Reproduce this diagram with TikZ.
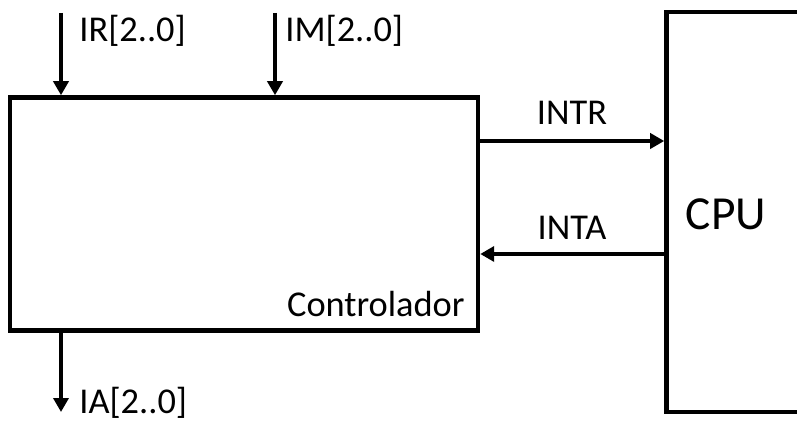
\documentclass[tikz,border=0pt]{standalone}
\usepackage{fontspec}
\setmainfont{Carlito}
\usetikzlibrary{arrows.meta}

\begin{document}
\begin{tikzpicture}[x=0.02cm, y=-0.02cm,
        blk/.style={draw, line width=2.6pt, inner sep=0pt},
        sig/.style={line width=2.4pt, -{Triangle[length=0.28cm, width=0.3cm]}},
        lbl/.style={font=\fontsize{20.7}{24}\selectfont, inner sep=0pt},
        big/.style={font=\fontsize{27}{31}\selectfont, inner sep=0pt}]

      \useasboundingbox (0,0) rectangle (797,421);
      \clip (0,0) rectangle (797,421);

      % controller
      \node[blk, minimum width=9.36cm, minimum height=4.66cm] (ctrl) at (244,214) {};
      \node[lbl, anchor=base east] (ctrlname) at (465,317) {Controlador};

      % cpu (runs off the right edge)
      \node[blk, minimum width=3.9cm, minimum height=8cm] (cpu) at (764,212) {};
      \node[big, anchor=base] (cpuname) at (726,230) {CPU};

      % inputs on top
      \coordinate (irin) at (61,13);
      \coordinate (imin) at (275,13);
      \draw[sig] (irin) -- (irin |- ctrl.north);
      \draw[sig] (imin) -- (imin |- ctrl.north);
      \node[lbl, anchor=base west] (irlbl) at (79,42) {IR[2..0]};
      \node[lbl, anchor=base west] (imlbl) at (285,42) {IM[2..0]};

      % handshake
      \coordinate (intr) at (ctrl.east |- 0,141);
      \coordinate (inta) at (cpu.west |- 0,254);
      \draw[sig] (intr) -- (intr -| cpu.west);
      \draw[sig] (inta) -- (inta -| ctrl.east);
      \node[lbl, anchor=base] (intrlbl) at (572,125) {INTR};
      \node[lbl, anchor=base] (intalbl) at (572,240) {INTA};

      % output
      \coordinate (iaout) at (61,412);
      \draw[sig] (iaout |- ctrl.south) -- (iaout);
      \node[lbl, anchor=base west] (ialbl) at (79,414) {IA[2..0]};
    \end{tikzpicture}
\end{document}
